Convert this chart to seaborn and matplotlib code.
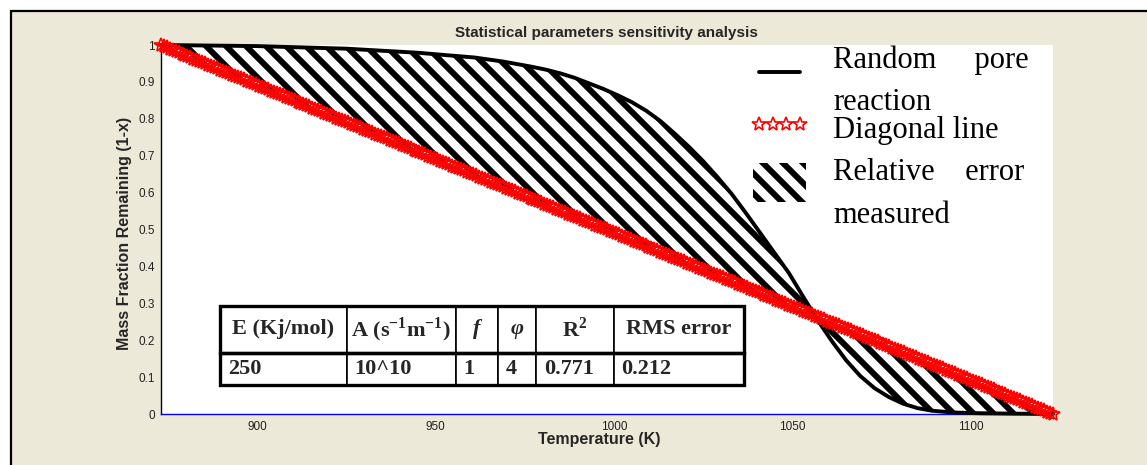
import numpy as np
import pandas as pd
import matplotlib
matplotlib.use("Agg")
import matplotlib.pyplot as plt
import seaborn as sns
from matplotlib.patches import Rectangle, Patch
from matplotlib.lines import Line2D

# ---------------- data ----------------
temperature_K = [873, 900, 925, 945, 961, 969, 977, 981, 985, 989, 993, 997, 1001,
                 1005, 1009, 1013, 1017, 1021, 1025, 1029, 1033, 1037, 1041, 1045,
                 1049, 1053, 1057, 1061, 1065, 1069, 1073, 1077, 1081, 1085, 1089,
                 1095, 1103, 1112, 1123]
random_pore = [1.000, 0.997, 0.990, 0.979, 0.966, 0.955, 0.941, 0.933, 0.923, 0.911,
               0.896, 0.881, 0.864, 0.845, 0.822, 0.794, 0.760, 0.724, 0.685, 0.642,
               0.596, 0.544, 0.490, 0.436, 0.382, 0.318, 0.255, 0.198, 0.146, 0.103,
               0.070, 0.046, 0.028, 0.016, 0.009, 0.004, 0.002, 0.001, 0.000]

# diagonal reference line (end points) and number of star markers drawn on it
diag_T_ends = [873, 1123]
diag_y_ends = [1.0, 0.0]
n_diag_markers = 301

x_ticks = [900, 950, 1000, 1050, 1100]
y_ticks = [0, 0.1, 0.2, 0.3, 0.4, 0.5, 0.6, 0.7, 0.8, 0.9, 1.0]
y_tick_labels = ["0", "0.1", "0.2", "0.3", "0.4", "0.5", "0.6", "0.7", "0.8", "0.9", "1"]

table_header = ["E (Kj/mol)", "A (s$^{\\mathregular{-1}}$m$^{\\mathregular{-1}}$)",
                "f", "\u03c6", "R$^{\\mathregular{2}}$", "RMS error"]
table_row = ["250", "10^10", "1", "4", "0.771", "0.212"]

title_text = "Statistical parameters sensitivity analysis"
xlabel_text = "Temperature (K)"
ylabel_text = "Mass Fraction Remaining (1-x)"

# ---------------- style ----------------
DPI = 120            # hatch tile = DPI pixels -> stripe spacing ~20 px
S = 100.0 / DPI      # sizes below are given as "points at 100 dpi"

sns.set_style("white")
plt.rcParams["font.family"] = ["Liberation Sans", "DejaVu Sans"]
plt.rcParams["hatch.linewidth"] = 3.6
plt.rcParams["hatch.color"] = "black"

W, H = 1147, 465
fig = plt.figure(figsize=((W + 0.01) / DPI, (H + 0.01) / DPI), dpi=DPI)
fig.patch.set_facecolor("white")

# beige panel with black border (left/top visible)
panel = Rectangle((11 / W, -0.1), 1.2, 1 - 11 / H + 0.1, transform=fig.transFigure,
                  facecolor="#ECE9D8", edgecolor="black", linewidth=1.6 * S, zorder=-10)
fig.patches.append(panel)

ax_l, ax_r, ax_t, ax_b = 160.7, 1053.0, 45.0, 414.0
ax = fig.add_axes([ax_l / W, (H - ax_b) / H, (ax_r - ax_l) / W, (ax_b - ax_t) / H])
ax.set_facecolor("white")

HATCH = "\\\\"

# hatched area between curve and diagonal
diag_at_T = np.interp(temperature_K, diag_T_ends, diag_y_ends)
ax.fill_between(temperature_K, random_pore, diag_at_T, facecolor="white",
                edgecolor="black", hatch=HATCH, linewidth=0, zorder=1)

# random pore curve
df_curve = pd.DataFrame({"T": temperature_K, "y": random_pore})
sns.lineplot(data=df_curve, x="T", y="y", color="black", linewidth=2.8 * S, ax=ax,
             legend=False, zorder=3, clip_on=False)

# diagonal line with star markers
diag_T = np.linspace(diag_T_ends[0], diag_T_ends[1], n_diag_markers)
diag_y = np.interp(diag_T, diag_T_ends, diag_y_ends)
STAR = dict(marker="*", markersize=10 * S, markerfacecolor="none", markeredgecolor="red",
            markeredgewidth=1.2 * S)
sns.lineplot(x=diag_T, y=diag_y, ax=ax, legend=False, linestyle="none", color="red",
             zorder=4, clip_on=False, **STAR)

# axes formatting
ax.set_xlim(diag_T_ends[0], diag_T_ends[1])
ax.set_ylim(0, 1)
ax.set_xticks(x_ticks)
ax.set_xticklabels([str(t) for t in x_ticks])
ax.set_yticks(y_ticks)
ax.set_yticklabels(y_tick_labels)
for s in ["top", "right"]:
    ax.spines[s].set_visible(False)
ax.spines["left"].set_color("black")
ax.spines["left"].set_linewidth(1.0 * S)
ax.spines["bottom"].set_color("#0000FF")
ax.spines["bottom"].set_linewidth(1.0 * S)
ax.tick_params(axis="both", direction="in", length=4 * S, width=0.8 * S, colors="black",
               labelcolor="#222222", labelsize=8.5 * S)
ax.tick_params(axis="x", pad=5 * S)
ax.tick_params(axis="y", pad=4 * S)

ax.set_title(title_text, fontsize=11 * S, fontweight="bold", pad=6 * S)
ax.set_xlabel(xlabel_text, fontsize=11.5 * S, fontweight="bold")
ax.xaxis.set_label_coords(0.492, -0.05)
ax.set_ylabel(ylabel_text, fontsize=11.5 * S, fontweight="bold")
ax.yaxis.set_label_coords(-0.032, 0.49)

# legend handles (labels are written as separate justified text lines)
handles = [Line2D([], [], color="black", linewidth=2.8 * S),
           Line2D([], [], color="red", linestyle="none", **STAR),
           Patch(facecolor="white", edgecolor="black", hatch=HATCH, linewidth=0)]
leg = ax.legend(handles, ["", "", ""], loc="upper left",
                bbox_to_anchor=((753 - ax_l) / (ax_r - ax_l), (ax_b - 59) / (ax_b - ax_t)),
                frameon=False, fontsize=15.3 * S, handlelength=2.5, handleheight=2.45,
                labelspacing=0.613, borderpad=0, borderaxespad=0, handletextpad=0,
                numpoints=4)

serif = dict(family=["Liberation Serif", "DejaVu Serif"], size=22 * S, color="black",
             transform=ax.transAxes, va="baseline", ha="left")
tx = 0.7535
ax.text(tx, 0.9377, "Random     pore", **serif)
ax.text(tx, 0.8238, "reaction", **serif)
ax.text(tx, 0.748, "Diagonal line", **serif)
ax.text(tx, 0.634, "Relative    error", **serif)
ax.text(tx, 0.5176, "measured", **serif)

# parameter table
col_px = [126.3, 109.0, 41.9, 38.5, 77.5, 130.9]
tab_left, tab_top, tab_bottom = 220.3, 305.7, 385.0
row_h_px = [47.0, 32.3]
tab_w = sum(col_px)
bx = (tab_left - ax_l) / (ax_r - ax_l)
bw = tab_w / (ax_r - ax_l)
by = (ax_b - tab_bottom) / (ax_b - ax_t)
bh = (tab_bottom - tab_top) / (ax_b - ax_t)
tbl = ax.table(cellText=[table_row], colLabels=table_header,
               colWidths=[c / tab_w for c in col_px], cellLoc="left",
               bbox=[bx, by, bw, bh])
tbl.auto_set_font_size(False)
for (r, c), cell in tbl.get_celld().items():
    cell.set_height(row_h_px[0] if r == 0 else row_h_px[1])
    cell.set_facecolor("white")
    cell.set_edgecolor("black")
    cell.set_linewidth(1.2 * S)
    cell.PAD = 8.0 / col_px[c]
    t = cell.get_text()
    t.set_fontfamily(["Liberation Serif", "DejaVu Serif"])
    t.set_fontweight("bold")
    t.set_fontsize(16 * S)
    if r == 0 and c in (2, 3):
        t.set_fontstyle("italic")
    cell.set_zorder(5)
tbl.set_zorder(5)
# thick horizontal/outer borders
mid_y = by + bh * row_h_px[1] / sum(row_h_px)
ax.add_patch(Rectangle((bx, mid_y), bw, by + bh - mid_y, transform=ax.transAxes,
                       fill=False, edgecolor="black", linewidth=2.4 * S, zorder=6,
                       clip_on=False))
ax.add_patch(Rectangle((bx, by), bw, mid_y - by, transform=ax.transAxes,
                       fill=False, edgecolor="black", linewidth=2.4 * S, zorder=6,
                       clip_on=False))

fig.savefig("out.png", dpi=DPI, facecolor=fig.get_facecolor())
